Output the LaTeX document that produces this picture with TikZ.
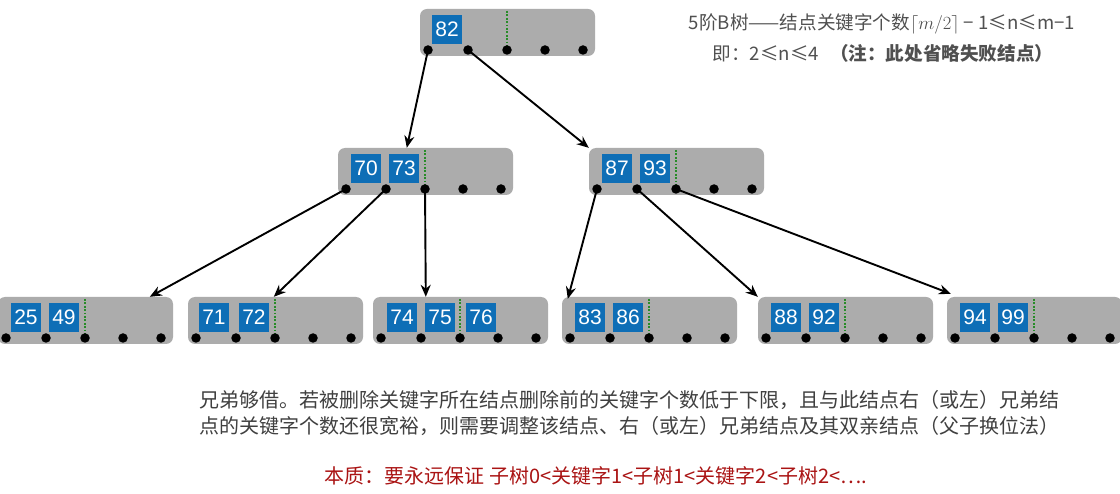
\RequirePackage{fix-cm}
\documentclass[tikz,border=0pt]{standalone}
\usepackage{fontspec}
\setmainfont{Noto Sans CJK SC}
\newfontfamily\keyfont{Liberation Sans}
\usetikzlibrary{arrows.meta,calc}
\definecolor{boxgray}{RGB}{172,172,172}
\definecolor{keyblue}{RGB}{14,110,182}
\definecolor{dotgreen}{RGB}{40,140,40}
\definecolor{txtgray}{RGB}{80,80,80}
\definecolor{txtdark}{RGB}{64,64,64}
\definecolor{txtred}{RGB}{170,20,20}
\tikzset{
 bbox/.style={fill=boxgray, rounded corners=7pt, minimum width=175pt, minimum height=47pt, inner sep=0pt, draw=none},
 bkey/.style={fill=keyblue, text=white, minimum width=30pt, minimum height=29pt, inner sep=0pt, font=\keyfont\fontsize{21}{20}\selectfont},
 bdot/.style={circle, fill=black, minimum size=9.5pt, inner sep=0pt},
 gline/.style={dotgreen, line width=1.8pt, dash pattern=on 1.8pt off 1.6pt},
 ptr/.style={-{Stealth[length=12pt,width=10pt]}, line width=1.9pt, black},
 note/.style={inner sep=0pt, font=\fontsize{20}{24}\selectfont},
 head/.style={inner sep=0pt, text=txtgray, font=\fontsize{18.6}{22}\selectfont},
}
\newcommand\treenode[4]{%
 \node[bbox] (#1) at (#2+87.5,#3+23.5) {};
 \draw[gline] (#2+87,#3+2) -- (#2+87,#3+41);
 \foreach \j/\dx in {1/8,2/48,3/87,4/125,5/163}{\node[bdot] (#1-d\j) at (#2+\dx,#3+41) {};}
 \foreach \kv/\kx in {#4}{\node[bkey] (#1-k\kv) at (#2+\kx,#3+20.5) {\kv};}
}
\begin{document}
\begin{tikzpicture}[x=1pt,y=-1pt]
\useasboundingbox (0,0) rectangle (1120,494);
\fill[white] (0,0) rectangle (1120,494);
\treenode{root}{420}{9}{82/27}
\treenode{ml}{338}{148}{70/28,73/66}
\treenode{mr}{589}{148}{87/28,93/66}
\treenode{ba}{-2}{297}{25/28,49/66}
\treenode{bb}{188}{297}{71/26,72/66}
\treenode{bc}{373}{297}{74/29,75/67,76/108}
\treenode{bd}{562}{297}{83/28,86/66}
\treenode{be}{758}{297}{88/28,92/66}
\treenode{bf}{947}{297}{94/28,99/66}
% arrows
\draw[ptr] (root-d1.center) -- ($(ml.north west)+(69,0)$);
\draw[ptr] (root-d2.center) -- ($(mr.north west)+(0,0)$);
\draw[ptr] (ml-d1.center) -- ($(ba.north west)+(152,0)$);
\draw[ptr] (ml-d2.center) -- ($(bb.north west)+(86,0)$);
\draw[ptr] (ml-d3.center) -- ($(bc.north west)+(53,0)$);
\draw[ptr] (mr-d1.center) -- ($(bd.north west)+(6,2)$);
\draw[ptr] (mr-d2.center) -- ($(be.north west)+(0,0)$);
\draw[ptr] (mr-d3.center) -- ($(bf.north west)+(4,-3)$);
% texts
\node[head] (t1) at (882,24) {5阶B树——结点关键字个数$\lceil m/2\rceil$ − 1≤n≤m−1};
\node[head] (t2) at (883,53) {即：2≤n≤4\hspace{7pt} \textbf{（注：此处省略失败结点）}};
\node[note, anchor=west, text=txtdark] (p1) at (199,400) {兄弟够借。若被删除关键字所在结点删除前的关键字个数低于下限，且与此结点右（或左）兄弟结};
\node[note, anchor=west, text=txtdark] (p2) at (199,426) {点的关键字个数还很宽裕，则需要调整该结点、右（或左）兄弟结点及其双亲结点（父子换位法）};
\node[note, text=txtred] (p3) at (596,476) {本质：要永远保证 子树0<关键字1<子树1<关键字2<子树2<….};
\end{tikzpicture}
\end{document}
